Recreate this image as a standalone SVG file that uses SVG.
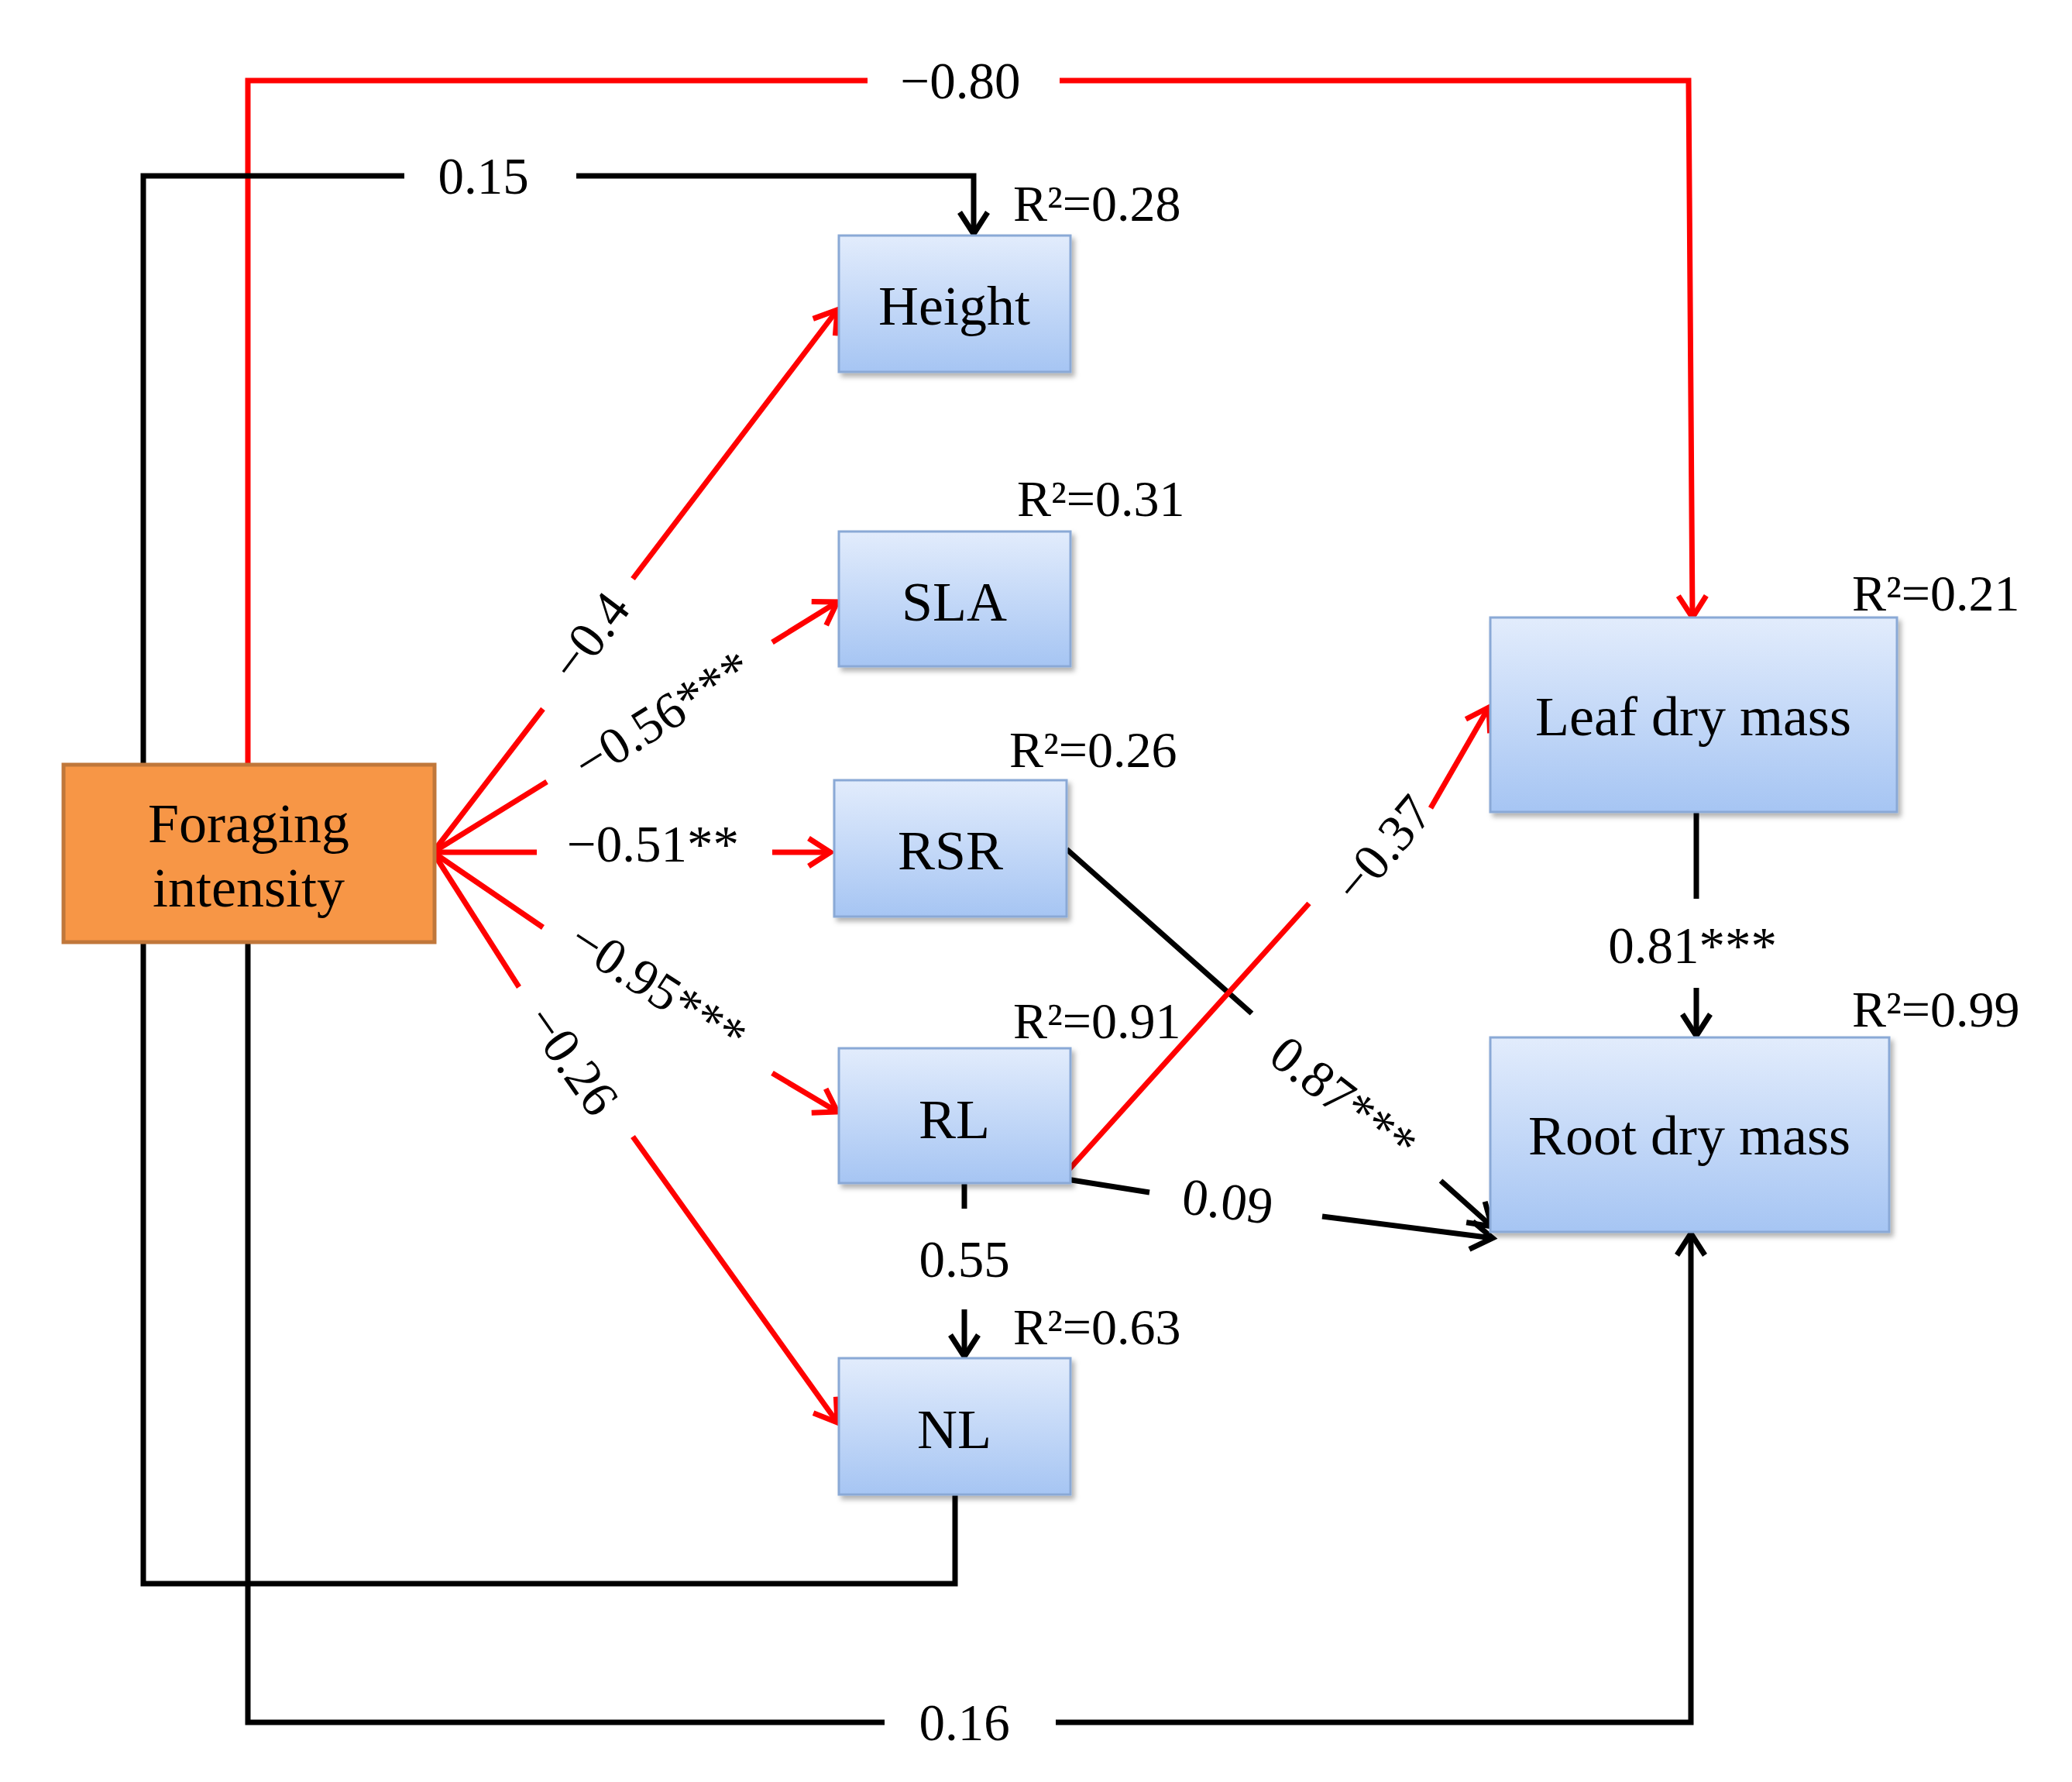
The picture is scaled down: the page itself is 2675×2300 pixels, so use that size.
<svg xmlns="http://www.w3.org/2000/svg" width="2675" height="2300" viewBox="0 0 2675 2300">
<style>
text{font-family:"Liberation Serif","Times New Roman",serif;fill:#000}
.lab{font-size:67px;text-anchor:middle;dominant-baseline:central}
.r2{font-size:66px}
.nl{font-size:72px;text-anchor:middle;dominant-baseline:central}
.box{fill:url(#bg);stroke:#8aa9d6;stroke-width:3;filter:url(#sh)}
.red{stroke:#f00;stroke-width:7;fill:none}
.blk{stroke:#000;stroke-width:7;fill:none}
</style>
<defs>
<linearGradient id="bg" x1="0" y1="0" x2="0" y2="1"><stop offset="0" stop-color="#e2ecfc"/><stop offset="1" stop-color="#a6c5f3"/></linearGradient>
<filter id="sh" x="-10%" y="-10%" width="130%" height="130%"><feDropShadow dx="4" dy="5" stdDeviation="3" flood-color="#000" flood-opacity="0.3"/></filter>
<marker id="ar" markerUnits="userSpaceOnUse" markerWidth="60" markerHeight="60" refX="40" refY="20" orient="auto" viewBox="0 0 60 40"><path d="M12 2 L40 20 L12 38" fill="none" stroke="#f00" stroke-width="7"/></marker>
<marker id="ab" markerUnits="userSpaceOnUse" markerWidth="60" markerHeight="60" refX="40" refY="20" orient="auto" viewBox="0 0 60 40"><path d="M12 2 L40 20 L12 38" fill="none" stroke="#000" stroke-width="7"/></marker>
</defs>
<rect width="2675" height="2300" fill="#fff"/>
<g id="connectors">
<path class="red" d="M320 987 V104 H1120"/><path class="red" d="M1368 104 H2180 L2185 797" marker-end="url(#ar)"/>
<text class="lab" x="1240" y="104">−0.80</text>
<path class="blk" d="M185 987 V227 H522"/><path class="blk" d="M744 227 H1257 V302" marker-end="url(#ab)"/>
<text class="lab" x="624" y="227">0.15</text>
<path class="blk" d="M185 1216 V2044 H1233 V1929"/>
<path class="blk" d="M320 1216 V2223 H1142"/><path class="blk" d="M1363 2223 H2183 V1592" marker-end="url(#ab)"/>
<text class="lab" x="1245" y="2223">0.16</text>
<path class="red" d="M559 1100 L701 915"/><path class="red" d="M817 747 L1081 400" marker-end="url(#ar)"/>
<text class="lab" transform="translate(761 821) rotate(-53)">−0.4</text>
<path class="red" d="M559 1100 L706 1009"/><path class="red" d="M997 829 L1081 777" marker-end="url(#ar)"/>
<text class="lab" transform="translate(855 923) rotate(-32)">−0.56***</text>
<path class="red" d="M559 1100 L693 1100"/><path class="red" d="M997 1100 L1072 1100" marker-end="url(#ar)"/>
<text class="lab" x="843" y="1089">−0.51**</text>
<path class="red" d="M559 1100 L701 1197"/><path class="red" d="M997 1385 L1081 1435" marker-end="url(#ar)"/>
<text class="lab" transform="translate(850 1274) rotate(33)">−0.95***</text>
<path class="red" d="M559 1100 L670 1274"/><path class="red" d="M817 1467 L1081 1836" marker-end="url(#ar)"/>
<text class="lab" transform="translate(739 1368) rotate(55)">−0.26</text>
<path class="blk" d="M1377 1096 L1616 1308"/><path class="blk" d="M1860 1524 L1926 1583" marker-end="url(#ab)"/>
<text class="lab" transform="translate(1735 1418) rotate(38)">0.87***</text>
<path class="red" d="M1377 1513 L1690 1166"/><path class="red" d="M1847 1043 L1922 913" marker-end="url(#ar)"/>
<text class="lab" transform="translate(1785 1095) rotate(-50)">−0.37</text>
<path class="blk" d="M1377 1522 L1484 1539"/><path class="blk" d="M1707 1570 L1927 1598" marker-end="url(#ab)"/>
<text class="lab" transform="translate(1585 1550) rotate(7)">0.09</text>
<path class="blk" d="M1245 1527 V1560"/><path class="blk" d="M1245 1690 V1751" marker-end="url(#ab)"/>
<text class="lab" x="1245" y="1625">0.55</text>
<path class="blk" d="M2190 1048 V1160"/><path class="blk" d="M2190 1275 V1337" marker-end="url(#ab)"/>
<text class="lab" x="2185" y="1220">0.81***</text>
</g>
<g id="foraging"><rect x="82" y="987" width="479" height="229" fill="#f79646" stroke="#c0773a" stroke-width="5"/><text class="nl" x="321" y="1063">Foraging</text><text class="nl" x="321" y="1146">intensity</text></g>
<g id="height"><rect class="box" x="1083" y="304" width="299" height="176"/><text class="nl" x="1232" y="395">Height</text><text class="r2" x="1308" y="285">R²=0.28</text></g>
<g id="sla"><rect class="box" x="1083" y="686" width="299" height="174"/><text class="nl" x="1232" y="777">SLA</text><text class="r2" x="1313" y="666">R²=0.31</text></g>
<g id="rsr"><rect class="box" x="1077" y="1007" width="300" height="176"/><text class="nl" x="1227" y="1098">RSR</text><text class="r2" x="1303" y="990">R²=0.26</text></g>
<g id="rl"><rect class="box" x="1083" y="1353" width="299" height="174"/><text class="nl" x="1232" y="1445">RL</text><text class="r2" x="1308" y="1340">R²=0.91</text></g>
<g id="nlbox"><rect class="box" x="1083" y="1753" width="299" height="176"/><text class="nl" x="1232" y="1845">NL</text><text class="r2" x="1308" y="1735">R²=0.63</text></g>
<g id="leaf"><rect class="box" x="1924" y="797" width="525" height="251"/><text class="nl" x="2186" y="925">Leaf dry mass</text><text class="r2" x="2391" y="788">R²=0.21</text></g>
<g id="root"><rect class="box" x="1924" y="1339" width="515" height="251"/><text class="nl" x="2181" y="1466">Root dry mass</text><text class="r2" x="2391" y="1325">R²=0.99</text></g>
</svg>
